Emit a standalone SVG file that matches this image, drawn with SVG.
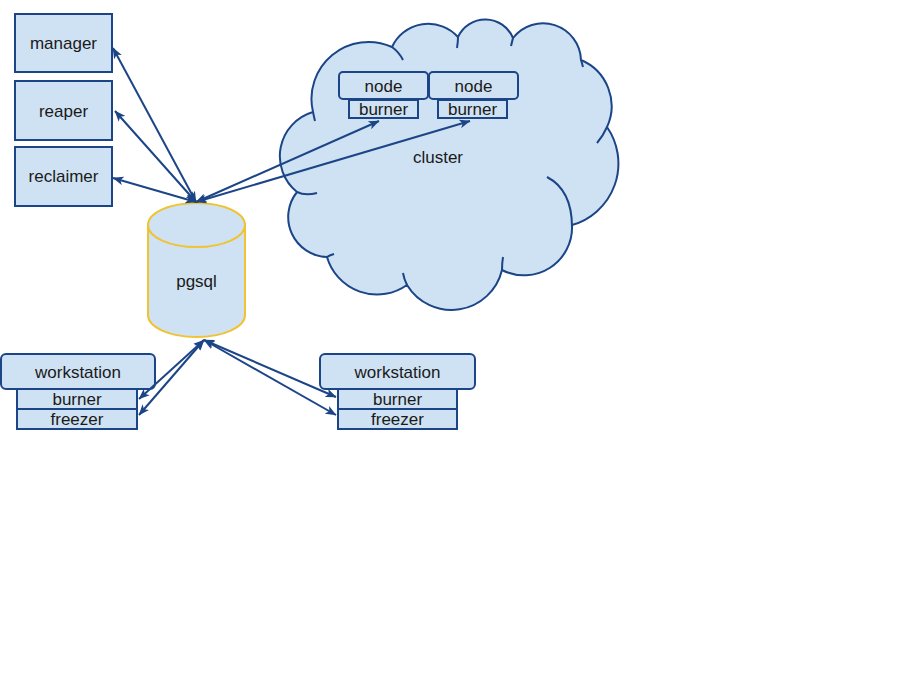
<svg xmlns="http://www.w3.org/2000/svg" width="900" height="680" viewBox="0 0 900 680">
<defs>
<style>
.box{fill:#cfe2f3;stroke:#1c4587;stroke-width:2}
.cloud{fill:#cfe2f3;stroke:#1c4587;stroke-width:2}
.stub{fill:none;stroke:#1c4587;stroke-width:2}
.db{fill:#cfe2f3;stroke:#f1c232;stroke-width:2}
.lbl{font-family:"Liberation Sans",Arial,sans-serif;font-size:17px;fill:#1a1a1a;text-anchor:middle}
.con{fill:none;stroke:#1c4587;stroke-width:2;marker-start:url(#ah);marker-end:url(#ah)}
</style>
<marker id="ah" viewBox="0 0 10 8" refX="9.5" refY="4" markerWidth="11" markerHeight="9" markerUnits="userSpaceOnUse" orient="auto-start-reverse">
<path d="M0,0 L10,4 L0,8 L2.5,4 z" fill="#1c4587"/>
</marker>
</defs>
<rect width="900" height="680" fill="#ffffff"/>

<g id="cluster">
<path class="cloud" d="M297,192 A46,46 0 0 1 313,112 A57,57 0 0 1 392,47 A40,40 0 0 1 458,37 A30,30 0 0 1 513,38 A38,38 0 0 1 581,60 A50,50 0 0 1 607,127 A64,64 0 0 1 572,225 A48,48 0 0 1 502,270 A52,52 0 0 1 407,285 A52,52 0 0 1 327,257 A40,40 0 0 1 297,192 Z"/>
<path class="stub" d="M297,192 Q305,196 317,193"/>
<path class="stub" d="M313,112 Q314,117 315,121"/>
<path class="stub" d="M392,47 Q399,52 403,60"/>
<path class="stub" d="M458,37 Q458,42 457,48"/>
<path class="stub" d="M513,38 Q512,42 511,46"/>
<path class="stub" d="M581,60 Q582,63 583,67"/>
<path class="stub" d="M607,127 Q603,136 597,143"/>
<path class="stub" d="M547,177 Q572,190 572,227"/>
<path class="stub" d="M502,270 Q502,263 503,257"/>
<path class="stub" d="M407,285 Q404,279 403,273"/>
<path class="stub" d="M327,257 Q330,255 334,254"/>
<text class="lbl" x="438" y="163">cluster</text>
</g>

<g id="node1">
<rect class="box" x="339" y="72" width="89" height="27" rx="4"/>
<text class="lbl" x="383.5" y="92">node</text>
<rect class="box" x="349" y="100" width="69" height="18"/>
<text class="lbl" x="383.5" y="115">burner</text>
</g>
<g id="node2">
<rect class="box" x="429" y="72" width="89" height="27" rx="4"/>
<text class="lbl" x="473.5" y="92">node</text>
<rect class="box" x="438" y="100" width="69" height="18"/>
<text class="lbl" x="472.5" y="115">burner</text>
</g>

<g id="manager">
<rect class="box" x="15" y="14" width="97" height="58"/>
<text class="lbl" x="63.5" y="49">manager</text>
</g>
<g id="reaper">
<rect class="box" x="15" y="81" width="97" height="59"/>
<text class="lbl" x="63.5" y="117">reaper</text>
</g>
<g id="reclaimer">
<rect class="box" x="15" y="147" width="97" height="59"/>
<text class="lbl" x="63.5" y="182">reclaimer</text>
</g>

<g id="pgsql">
<path class="db" d="M148,225 L148,315 A48.5,22 0 0 0 245,315 L245,225"/>
<ellipse class="db" cx="196.5" cy="225" rx="48.5" ry="22"/>
<text class="lbl" x="196.5" y="287">pgsql</text>
</g>

<g id="workstation1">
<rect class="box" x="1" y="354" width="154" height="35" rx="5"/>
<text class="lbl" x="78" y="378">workstation</text>
<rect class="box" x="17" y="389" width="120" height="20"/>
<text class="lbl" x="77" y="405">burner</text>
<rect class="box" x="17" y="409" width="120" height="20"/>
<text class="lbl" x="77" y="425">freezer</text>
</g>
<g id="workstation2">
<rect class="box" x="320" y="354" width="155" height="35" rx="5"/>
<text class="lbl" x="397.5" y="378">workstation</text>
<rect class="box" x="338" y="389" width="119" height="20"/>
<text class="lbl" x="397.5" y="405">burner</text>
<rect class="box" x="338" y="409" width="119" height="20"/>
<text class="lbl" x="397.5" y="425">freezer</text>
</g>

<g id="connectors">
<line class="con" x1="196" y1="202" x2="113" y2="48"/>
<line class="con" x1="196" y1="202" x2="115" y2="111"/>
<line class="con" x1="196" y1="202" x2="113" y2="178"/>
<line class="con" x1="196" y1="202" x2="379" y2="121"/>
<line class="con" x1="196" y1="202" x2="470" y2="121"/>
<line class="con" x1="204" y1="340" x2="139" y2="399"/>
<line class="con" x1="204" y1="340" x2="139" y2="415"/>
<line class="con" x1="204" y1="340" x2="336" y2="397"/>
<line class="con" x1="204" y1="340" x2="336" y2="415"/>
</g>
</svg>
